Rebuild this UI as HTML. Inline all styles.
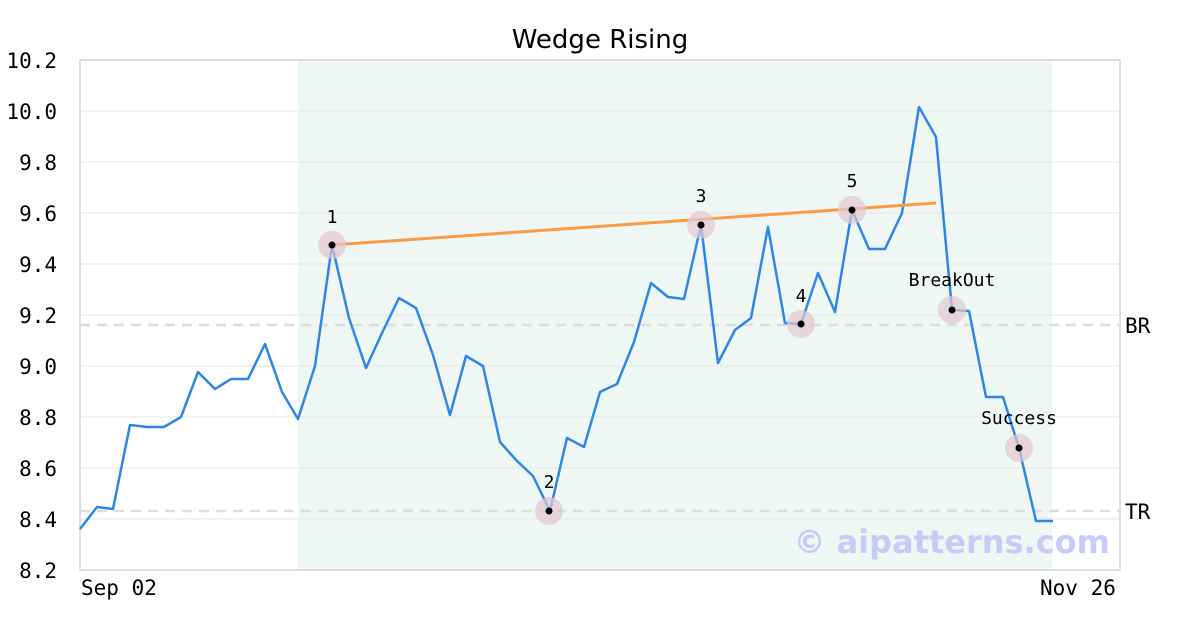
<!DOCTYPE html>
<html><head><meta charset="utf-8"><style>body{margin:0;background:#fff}</style></head><body>
<svg width="1200" height="630" xmlns="http://www.w3.org/2000/svg">
<rect width="1200" height="630" fill="#fff"/>
<rect x="298" y="60" width="754" height="510" fill="#eff7f4"/>
<g stroke="#e6e6e6" stroke-width="1">
<line x1="80" x2="1120" y1="111" y2="111"/><line x1="80" x2="1120" y1="162" y2="162"/>
<line x1="80" x2="1120" y1="213" y2="213"/><line x1="80" x2="1120" y1="264" y2="264"/>
<line x1="80" x2="1120" y1="315" y2="315"/><line x1="80" x2="1120" y1="366" y2="366"/>
<line x1="80" x2="1120" y1="417" y2="417"/><line x1="80" x2="1120" y1="468" y2="468"/>
<line x1="80" x2="1120" y1="519" y2="519"/>
</g>
<g stroke="#dddddd" stroke-width="2.5" stroke-dasharray="10,7">
<line x1="80" x2="1120" y1="325" y2="325"/><line x1="80" x2="1120" y1="511" y2="511"/>
</g>
<rect x="80" y="60" width="1040" height="510" fill="none" stroke="#dddddd" stroke-width="2"/>
<polyline fill="none" stroke="#2e86e8" stroke-width="2.5" stroke-linejoin="round" points="80,529 97,507 113,509 130,425 147,427 164,427 181,417 198,372 215,389 231,379 248,379 265,344 282,392 298,419 315,366 332,245 349,318 366,368 382,333 399,298 416,308 433,355 450,415 466,356 483,366 500,442 517,461 533,476 550,511 567,438 584,447 600,392 617,384 634,342 651,283 668,297 684,299 701,225 718,363 735,330 751,318 768,227 785,323 801,324 818,273 835,312 852,210 869,249 885,249 902,213 919,107 936,137 952,310 969,311 986,397 1003,397 1019,448 1036,521 1053,521"/>
<line x1="332" y1="245" x2="936" y2="203" stroke="#fb9a40" stroke-width="3"/>
<g fill="#e3c8d2" fill-opacity="0.7">
<circle cx="332" cy="245" r="14"/><circle cx="549" cy="511" r="14"/><circle cx="701" cy="225" r="14"/>
<circle cx="801" cy="324" r="14"/><circle cx="852" cy="210" r="14"/><circle cx="952" cy="310" r="14"/><circle cx="1019" cy="448" r="14"/>
</g>
<g fill="#000">
<circle cx="332" cy="245" r="3.5"/><circle cx="549" cy="511" r="3.5"/><circle cx="701" cy="225" r="3.5"/>
<circle cx="801" cy="324" r="3.5"/><circle cx="852" cy="210" r="3.5"/><circle cx="952" cy="310" r="3.5"/><circle cx="1019" cy="448" r="3.5"/>
</g>
<g font-family="DejaVu Sans Mono, Liberation Mono, monospace" font-size="18" fill="#000" text-anchor="middle">
<text x="332" y="223">1</text><text x="549" y="488">2</text><text x="701" y="202">3</text>
<text x="801" y="302">4</text><text x="852" y="187">5</text><text x="952" y="286">BreakOut</text><text x="1019" y="424">Success</text>
</g>
<g font-family="DejaVu Sans Mono, Liberation Mono, monospace" font-size="21" fill="#000" text-anchor="end">
<text x="57" y="68">10.2</text><text x="57" y="119">10.0</text><text x="57" y="170">9.8</text>
<text x="57" y="221">9.6</text><text x="57" y="272">9.4</text><text x="57" y="323">9.2</text>
<text x="57" y="374">9.0</text><text x="57" y="425">8.8</text><text x="57" y="476">8.6</text>
<text x="57" y="527">8.4</text><text x="57" y="578">8.2</text>
</g>
<g font-family="DejaVu Sans Mono, Liberation Mono, monospace" font-size="21" fill="#000">
<text x="81" y="595">Sep 02</text><text x="1040" y="595">Nov 26</text>
<text x="1125" y="333">BR</text><text x="1125" y="519">TR</text>
</g>
<text x="600" y="48" text-anchor="middle" font-family="DejaVu Sans, Liberation Sans, sans-serif" font-size="26" fill="#000">Wedge Rising</text>
<text x="1110" y="553" text-anchor="end" font-family="DejaVu Sans, Liberation Sans, sans-serif" font-weight="bold" font-size="32" fill="#c8cbfa">© aipatterns.com</text>
</svg>
</body></html>
